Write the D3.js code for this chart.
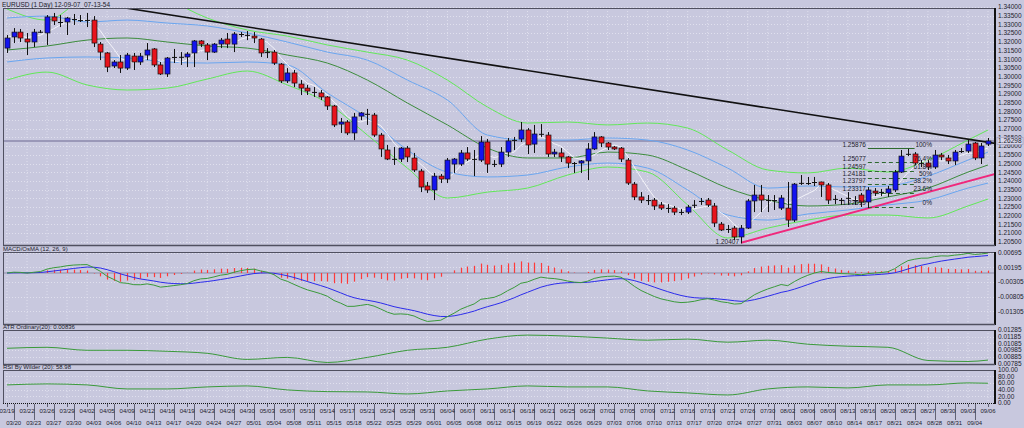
<!DOCTYPE html>
<html>
<head>
<meta charset="utf-8">
<script src="https://cdnjs.cloudflare.com/ajax/libs/d3/7.8.5/d3.min.js"></script>
<style>
body { margin: 0; background: #c8c8de; }
svg { display: block; font-family: "Liberation Sans", Arial, sans-serif; }
</style>
</head>
<body>
<svg id="chart" width="1024" height="428"></svg>
<script>
// EURUSD daily candles, 2012-03-19 .. 2012-09-06 (Sunday sessions included)
var opens = [1.3164,1.3228,1.3256,1.3216,1.3199,1.3256,1.3251,1.3343,1.3314,1.3314,1.3331,1.3325,1.3325,1.3325,1.3187,1.3136,1.3061,1.3084,1.3049,1.3118,
  1.3084,1.3124,1.3159,1.3067,1.3015,1.3113,1.3113,1.3113,1.3136,1.3205,1.3182,1.3141,1.3187,1.3216,1.3187,1.3245,1.3239,1.3233,1.3216,1.3141,
  1.3141,1.3072,1.2975,1.3021,1.2957,1.2934,1.2911,1.2906,1.2883,1.2831,1.2727,1.2739,1.2676,1.2773,1.2785,1.2779,1.2664,1.2578,1.2526,1.2526,
  1.2589,1.2532,1.2457,1.2371,1.2348,1.2428,1.2411,1.2497,1.2497,1.2561,1.2526,1.2520,1.2624,1.2497,1.2497,1.2566,1.2635,1.2641,1.2693,1.2612,
  1.2670,1.2664,1.2555,1.2561,1.2538,1.2503,1.2503,1.2515,1.2584,1.2653,1.2618,1.2595,1.2589,1.2520,1.2382,1.2308,1.2290,1.2290,1.2262,1.2244,
  1.2244,1.2221,1.2221,1.2262,1.2285,1.2290,1.2256,1.2152,1.2124,1.2129,1.2078,1.2129,1.2285,1.2319,1.2290,1.2290,1.2244,1.2244,1.2175,1.2388,
  1.2388,1.2394,1.2394,1.2377,1.2296,1.2290,1.2302,1.2290,1.2319,1.2279,1.2342,1.2336,1.2331,1.2348,1.2451,1.2555,1.2555,1.2503,1.2503,1.2480,
  1.2549,1.2532,1.2515,1.2572,1.2572,1.2618,1.2532,1.2612];
var highs = [1.3239,1.3279,1.3274,1.3251,1.3274,1.3268,1.3354,1.3366,1.3354,1.3343,1.3360,1.3354,1.3366,1.3348,1.3199,1.3141,1.3095,1.3124,1.3136,1.3136,
  1.3136,1.3193,1.3164,1.3084,1.3113,1.3159,1.3141,1.3141,1.3210,1.3210,1.3193,1.3193,1.3222,1.3251,1.3256,1.3256,1.3262,1.3256,1.3222,1.3164,
  1.3153,1.3078,1.3049,1.3038,1.2980,1.2952,1.2940,1.2923,1.2888,1.2837,1.2762,1.2750,1.2791,1.2796,1.2814,1.2791,1.2676,1.2607,1.2595,1.2595,
  1.2601,1.2561,1.2469,1.2394,1.2446,1.2440,1.2532,1.2532,1.2578,1.2595,1.2578,1.2658,1.2641,1.2520,1.2595,1.2647,1.2653,1.2739,1.2704,1.2722,
  1.2727,1.2681,1.2584,1.2589,1.2543,1.2509,1.2520,1.2618,1.2681,1.2658,1.2624,1.2601,1.2595,1.2532,1.2394,1.2336,1.2319,1.2302,1.2279,1.2267,
  1.2256,1.2239,1.2262,1.2290,1.2302,1.2302,1.2273,1.2164,1.2147,1.2141,1.2147,1.2296,1.2377,1.2377,1.2319,1.2319,1.2319,1.2394,1.2388,1.2434,
  1.2423,1.2423,1.2396,1.2388,1.2319,1.2302,1.2336,1.2313,1.2331,1.2365,1.2359,1.2354,1.2371,1.2463,1.2578,1.2584,1.2566,1.2520,1.2520,1.2578,
  1.2561,1.2549,1.2578,1.2589,1.2635,1.2624,1.2618,1.2647];
var lows = [1.3136,1.3193,1.3199,1.3124,1.3170,1.3251,1.3182,1.3297,1.3285,1.3239,1.3297,1.3314,1.3285,1.3170,1.3095,1.3026,1.3049,1.3021,1.3038,1.3038,
  1.3067,1.3095,1.3055,1.3009,1.2998,1.3078,1.3067,1.3055,1.3055,1.3170,1.3095,1.3136,1.3164,1.3164,1.3141,1.3228,1.3210,1.3193,1.3113,1.3107,
  1.3067,1.2963,1.2963,1.2940,1.2894,1.2894,1.2883,1.2865,1.2808,1.2710,1.2676,1.2664,1.2635,1.2750,1.2722,1.2653,1.2538,1.2520,1.2492,1.2509,
  1.2509,1.2451,1.2336,1.2331,1.2290,1.2388,1.2388,1.2446,1.2486,1.2515,1.2428,1.2509,1.2446,1.2480,1.2480,1.2538,1.2578,1.2624,1.2555,1.2561,
  1.2653,1.2538,1.2538,1.2509,1.2474,1.2446,1.2446,1.2405,1.2578,1.2595,1.2578,1.2578,1.2509,1.2377,1.2290,1.2273,1.2262,1.2233,1.2233,1.2216,
  1.2204,1.2204,1.2210,1.2244,1.2262,1.2250,1.2135,1.2112,1.2101,1.2060,1.20407,1.2124,1.2221,1.2221,1.2221,1.2233,1.2233,1.2135,1.2164,1.2377,
  1.2377,1.2371,1.2308,1.2267,1.2267,1.2262,1.2262,1.2262,1.2250,1.2244,1.2313,1.2313,1.2308,1.2336,1.2446,1.2543,1.2492,1.2480,1.2463,1.2469,
  1.2520,1.2497,1.2492,1.2561,1.2561,1.2520,1.2497,1.2601];
var closes = [1.3222,1.3256,1.3222,1.3199,1.3256,1.3258,1.3343,1.3320,1.3312,1.3337,1.3330,1.3324,1.3326,1.3193,1.3141,1.3055,1.3084,1.3049,1.3124,1.3084,
  1.3118,1.3153,1.3067,1.3015,1.3107,1.3112,1.3114,1.3130,1.3205,1.3187,1.3141,1.3187,1.3210,1.3187,1.3245,1.3244,1.3240,1.3222,1.3136,1.3140,
  1.3078,1.2975,1.3021,1.2963,1.2934,1.2917,1.2912,1.2883,1.2831,1.2722,1.2739,1.2676,1.2768,1.2791,1.2786,1.2664,1.2584,1.2526,1.2527,1.2589,
  1.2538,1.2463,1.2365,1.2348,1.2428,1.2411,1.2520,1.2526,1.2561,1.2526,1.2527,1.2624,1.2497,1.2498,1.2566,1.2630,1.2636,1.2693,1.2607,1.2670,
  1.2671,1.2555,1.2566,1.2538,1.2503,1.2502,1.2515,1.2584,1.2653,1.2618,1.2595,1.2584,1.2526,1.2388,1.2308,1.2290,1.2289,1.2256,1.2244,1.2245,
  1.2221,1.2222,1.2250,1.2263,1.2284,1.2262,1.2158,1.2118,1.2123,1.2078,1.2129,1.2285,1.2319,1.2290,1.2291,1.2289,1.2302,1.2175,1.2382,1.2389,
  1.2387,1.2393,1.2377,1.2290,1.2297,1.2291,1.2303,1.2289,1.2279,1.2348,1.2331,1.2337,1.2354,1.2451,1.2543,1.2556,1.2503,1.2504,1.2480,1.2549,
  1.2538,1.2515,1.2566,1.2571,1.2612,1.2532,1.2601,1.26298];

var bandIndex  = [0,6,12,18,24,30,36,42,48,54,60,66,72,78,84,90,96,102,108,114,120,126,132,138,144,147];
var upperOuter = [1.3389,1.3325,1.3458,1.3486,1.3440,1.3337,1.3268,1.3233,1.3182,1.3141,1.3095,1.2980,1.2825,1.2733,1.2739,1.2722,1.2733,1.2704,1.2578,1.2463,1.2446,1.2474,1.2451,1.2520,1.2635,1.2693];
var upperInner = [1.3337,1.3348,1.3314,1.3325,1.3308,1.3291,1.3251,1.3199,1.3141,1.3095,1.2980,1.2865,1.2664,1.2635,1.2635,1.2647,1.2635,1.2578,1.2474,1.2359,1.2371,1.2365,1.2371,1.2428,1.2520,1.2566];
var middle     = [1.3153,1.3176,1.3210,1.3222,1.3199,1.3176,1.3164,1.3124,1.3078,1.2980,1.2848,1.2722,1.2589,1.2532,1.2532,1.2566,1.2549,1.2463,1.2359,1.2290,1.2256,1.2267,1.2308,1.2359,1.2451,1.2492];
var lowerInner = [1.3084,1.3107,1.3113,1.3107,1.3084,1.3078,1.3084,1.3067,1.2906,1.2762,1.2578,1.2451,1.2423,1.2434,1.2480,1.2503,1.2474,1.2348,1.2204,1.2175,1.2210,1.2233,1.2262,1.2290,1.2359,1.2388];
var lowerOuter = [1.2980,1.3026,1.2952,1.2923,1.2934,1.2986,1.3032,1.2952,1.2848,1.2664,1.2474,1.2302,1.2336,1.2359,1.2434,1.2480,1.2451,1.2262,1.2072,1.2129,1.2175,1.2204,1.2204,1.2187,1.2256,1.2296];
var atrValues  = [0.01012,0.01027,0.00982,0.00982,0.00967,0.00937,0.00846,0.00876,0.00800,0.00876,0.00982,0.01027,0.01149,0.01209,0.01194,0.01164,0.01133,0.01149,0.01103,0.01133,0.01073,0.01043,0.01027,0.00830,0.00815,0.00836];
var rsiValues  = [54,57,54,42,42,48,51,39,34,33,27,36,42,51,48,48,36,30,24,42,48,45,54,54,60,58.98];

var fibLevels = [1.25876,1.25077,1.24597,1.24181,1.23797,1.23317,1.22519];
var fibNames  = ["100%","76.4%","61.8%","50%","38.2%","23.6%","0%"];
var trendDown = [[14,1.3417],[148.1,1.2616]];
var trendUp   = [[110,1.2045],[148.1,1.2440]];
var lastPrice = 1.26298;

var priceTicks = d3.range(1.205, 1.34001, 0.005);
var macdTicks  = [0.00695,0.00195,-0.00305,-0.00805,-0.01305];
var atrTicks   = [0.01285,0.01185,0.01085,0.00985,0.00885,0.00785];
var rsiTicks   = [100,80,60,40,20,0];
var topLabels = ["03/19","03/22","03/26","03/29","04/02","04/05","04/09","04/12","04/16","04/19","04/23","04/26","04/30","05/03","05/07","05/10","05/14","05/17","05/21","05/24","05/28","05/31","06/04","06/07","06/11","06/14","06/18","06/21","06/25","06/28","07/02","07/05","07/09","07/12","07/16","07/19","07/23","07/26","07/30","08/02","08/06","08/09","08/13","08/16","08/20","08/23","08/27","08/30","09/03","09/06"];
var bottomLabels = ["03/20","03/23","03/27","03/30","04/03","04/06","04/10","04/13","04/17","04/20","04/24","04/27","05/01","05/04","05/08","05/11","05/15","05/18","05/22","05/25","05/29","06/01","06/05","06/08","06/12","06/15","06/19","06/22","06/26","06/29","07/03","07/06","07/10","07/13","07/17","07/20","07/24","07/27","07/31","08/03","08/07","08/10","08/14","08/17","08/21","08/24","08/28","08/31","09/04"];

var days = d3.timeDay.range(new Date(2012, 2, 19), new Date(2012, 8, 7)).filter(function (d) { return d.getDay() !== 6; });
var fmt = d3.timeFormat("%m/%d");
var dayIndex = {};
days.forEach(function (d, i) { dayIndex[fmt(d)] = i; });

var svg = d3.select("#chart");
var left = 3, right = 995;
var panels = {
    main: { top: 8, bottom: 245 },
    macd: { top: 252, bottom: 324 },
    atr: { top: 330, bottom: 364 },
    rsi: { top: 370, bottom: 403 }
};

var x = d3.scaleLinear().domain([0, closes.length - 1]).range([7, 988]);
var y = d3.scaleLinear().domain([1.20317, 1.33945]).range([panels.main.bottom, panels.main.top]);
var yMacd = d3.scaleLinear().domain([-0.01729, 0.00695]).range([panels.macd.bottom, panels.macd.top + 0.5]);
var yAtr = d3.scaleLinear().domain([0.00785, 0.01285]).range([panels.atr.bottom - 0.5, panels.atr.top]);
var yRsi = d3.scaleLinear().domain([0, 100]).range([panels.rsi.bottom, panels.rsi.top - 0.5]);

var gridColor = "#e6e6f2";
var textColor = "#1c1c2c";

// clip paths
var defs = svg.append("defs");
Object.keys(panels).forEach(function (k) {
    defs.append("clipPath").attr("id", "clip-" + k)
      .append("rect")
        .attr("x", left).attr("y", panels[k].top)
        .attr("width", right - left).attr("height", panels[k].bottom - panels[k].top);
});

// grid
var vGrid = topLabels.map(function (l) { return dayIndex[l]; });
Object.keys(panels).forEach(function (k) {
    var p = panels[k];
    svg.append("g").selectAll("line").data(vGrid).enter().append("line")
        .attr("x1", function (d) { return x(d); }).attr("x2", function (d) { return x(d); })
        .attr("y1", p.top).attr("y2", p.bottom)
        .attr("stroke", gridColor).attr("stroke-width", 0.8).attr("stroke-dasharray", "1,2");
});
function hGrid(ticks, scale) {
    svg.append("g").selectAll("line").data(ticks).enter().append("line")
        .attr("x1", left).attr("x2", right)
        .attr("y1", function (d) { return Math.round(scale(d)) + 0.5; })
        .attr("y2", function (d) { return Math.round(scale(d)) + 0.5; })
        .attr("stroke", gridColor).attr("stroke-width", 0.8).attr("stroke-dasharray", "1,2");
}
hGrid(priceTicks, y);
hGrid(macdTicks, yMacd);
hGrid(atrTicks, yAtr);
hGrid(rsiTicks.slice(1, 5), yRsi);

// ---------- main panel ----------
var main = svg.append("g").attr("clip-path", "url(#clip-main)");

main.append("line")
    .attr("x1", left).attr("x2", right)
    .attr("y1", y(lastPrice)).attr("y2", y(lastPrice))
    .attr("stroke", "#9a98b8").attr("stroke-width", 2);

var bandLine = d3.line()
    .x(function (d) { return x(d[0]); })
    .y(function (d) { return y(d[1]); })
    .curve(d3.curveMonotoneX);

function band(values, color, width) {
    main.append("path")
        .datum(bandIndex.map(function (b, i) { return [b, values[i]]; }))
        .attr("d", bandLine)
        .attr("fill", "none").attr("stroke", color).attr("stroke-width", width);
}
band(upperOuter, "#62e858", 1);
band(lowerOuter, "#62e858", 1);
band(upperInner, "#6aa6f0", 1);
band(lowerInner, "#6aa6f0", 1);
band(middle, "#3c8c3c", 1);

// short moving average of the closes (white line)
var fast = closes.map(function (c, i) { return [i, d3.mean(closes.slice(Math.max(0, i - 4), i + 1))]; });
main.append("path").datum(fast)
    .attr("d", d3.line().x(function (d) { return x(d[0]); }).y(function (d) { return y(d[1]); }))
    .attr("fill", "none").attr("stroke", "#f4f4fa").attr("stroke-width", 1);

// trend lines
var tline = d3.line().x(function (d) { return x(d[0]); }).y(function (d) { return y(d[1]); });
main.append("path").datum(trendDown).attr("d", tline).attr("stroke", "#111").attr("stroke-width", 1.6).attr("fill", "none");
main.append("path").datum(trendUp).attr("d", tline).attr("stroke", "#f0287c").attr("stroke-width", 2).attr("fill", "none");

// fibonacci
var fibA = 129, fibB = 136;
var fib = main.append("g");
fib.selectAll("line").data(fibLevels).enter().append("line")
    .attr("x1", x(fibA)).attr("x2", x(fibB))
    .attr("y1", function (d) { return Math.round(y(d)) + 0.5; })
    .attr("y2", function (d) { return Math.round(y(d)) + 0.5; })
    .attr("stroke", "#2e6a2e").attr("stroke-width", 1)
    .attr("stroke-dasharray", function (d, i) { return i === 0 ? null : "4,3"; });

// candles
var candles = main.append("g").selectAll("g").data(closes).enter().append("g");
candles.append("line")
    .attr("x1", function (d, i) { return Math.round(x(i)) + 0.5; })
    .attr("x2", function (d, i) { return Math.round(x(i)) + 0.5; })
    .attr("y1", function (d, i) { return y(highs[i]); })
    .attr("y2", function (d, i) { return y(lows[i]); })
    .attr("stroke", "#101010").attr("stroke-width", 1);
candles.append("rect")
    .attr("x", function (d, i) { return Math.round(x(i)) - 2; })
    .attr("width", 5)
    .attr("y", function (d, i) { return y(Math.max(opens[i], d)); })
    .attr("height", function (d, i) { return Math.max(1, Math.abs(y(opens[i]) - y(d))); })
    .attr("fill", function (d, i) {
        if (Math.abs(d - opens[i]) < 0.00025) return "#101010";
        return d > opens[i] ? "#1414f0" : "#e8141c";
    })
    .attr("stroke", "#101010").attr("stroke-width", function (d, i) {
        return Math.abs(d - opens[i]) < 0.00025 ? 0 : 0.7;
    });

// fib labels (drawn over candles)
var fibText = svg.append("g").attr("font-size", 6.5).attr("fill", textColor);
fibText.selectAll("text.p").data(fibLevels).enter().append("text")
    .attr("x", x(fibA) - 2).attr("y", function (d) { return y(d) - 1.5; })
    .attr("text-anchor", "end").text(function (d) { return d.toFixed(5); });
fibText.selectAll("text.n").data(fibNames).enter().append("text")
    .attr("x", 932).attr("y", function (d, i) { return y(fibLevels[i]) - 1.5; })
    .attr("text-anchor", "end").text(function (d) { return d; });
fibText.append("text")
    .attr("x", x(110) - 2).attr("y", y(d3.min(lows)) + 1)
    .attr("text-anchor", "end").text(d3.min(lows).toFixed(5));

// ---------- MACD panel ----------
function ema(arr, n) {
    var k = 2 / (n + 1), prev = arr[0];
    return arr.map(function (v, i) { prev = i ? v * k + prev * (1 - k) : v; return prev; });
}
var ema12 = ema(closes, 12), ema26 = ema(closes, 26);
var macd = ema12.map(function (v, i) { return v - ema26[i]; });
var signal = ema(macd, 9);
var osma = macd.map(function (v, i) { return v - signal[i]; });

var mg = svg.append("g").attr("clip-path", "url(#clip-macd)");
mg.append("line").attr("x1", left).attr("x2", right)
    .attr("y1", yMacd(0)).attr("y2", yMacd(0))
    .attr("stroke", "#8c8ca8").attr("stroke-width", 1);
mg.selectAll("line.h").data(osma).enter().append("line")
    .attr("x1", function (d, i) { return Math.round(x(i)) + 0.5; })
    .attr("x2", function (d, i) { return Math.round(x(i)) + 0.5; })
    .attr("y1", yMacd(0))
    .attr("y2", function (d) { return yMacd(d); })
    .attr("stroke", "#ff3a3a").attr("stroke-width", 1.2);
var mline = function (scale) {
    return d3.line().x(function (d, i) { return x(i); }).y(function (d) { return scale(d); });
};
mg.append("path").datum(signal).attr("d", mline(yMacd)).attr("fill", "none").attr("stroke", "#2c2cec").attr("stroke-width", 1);
mg.append("path").datum(macd).attr("d", mline(yMacd)).attr("fill", "none").attr("stroke", "#3a9a3a").attr("stroke-width", 1);

// ---------- ATR & RSI ----------
var sampleLine = function (scale) {
    return d3.line().x(function (d, i) { return x(bandIndex[i]); }).y(function (d) { return scale(d); }).curve(d3.curveMonotoneX);
};
svg.append("g").attr("clip-path", "url(#clip-atr)")
  .append("path").datum(atrValues).attr("d", sampleLine(yAtr))
    .attr("fill", "none").attr("stroke", "#3a9a3a").attr("stroke-width", 1);
svg.append("g").attr("clip-path", "url(#clip-rsi)")
  .append("path").datum(rsiValues).attr("d", sampleLine(yRsi))
    .attr("fill", "none").attr("stroke", "#3a9a3a").attr("stroke-width", 1);

// ---------- frames ----------
Object.keys(panels).forEach(function (k) {
    var p = panels[k];
    var f = svg.append("g").attr("fill", "none");
    f.append("line").attr("x1", left + 0.5).attr("x2", left + 0.5).attr("y1", p.top).attr("y2", p.bottom).attr("stroke", "#505060");
    f.append("line").attr("x1", left).attr("x2", right).attr("y1", p.top + 0.5).attr("y2", p.top + 0.5).attr("stroke", "#505060");
    f.append("line").attr("x1", right).attr("x2", right).attr("y1", p.top).attr("y2", p.bottom + 1).attr("stroke", "#111").attr("stroke-width", 2);
    f.append("line").attr("x1", left).attr("x2", right).attr("y1", p.bottom + 0.5).attr("y2", p.bottom + 0.5)
        .attr("stroke", k === "rsi" ? "#111" : "#505060")
        .attr("stroke-dasharray", k === "rsi" ? "1,1" : null)
        .attr("stroke-width", k === "rsi" ? 1 : 1.5);
});

// ---------- right-hand scales ----------
var axisText = svg.append("g").attr("font-size", 6.5).attr("fill", textColor);
function rightLabels(ticks, scale, f) {
    axisText.append("g").selectAll("text").data(ticks).enter().append("text")
        .attr("x", 998).attr("y", function (d) { return scale(d) + 2.3; })
        .text(f);
}
rightLabels(priceTicks, y, function (d) { return d.toFixed(5); });
rightLabels(macdTicks, yMacd, function (d) { return d.toFixed(5); });
rightLabels(atrTicks, yAtr, function (d) { return d.toFixed(5); });
rightLabels(rsiTicks, yRsi, function (d) { return d.toFixed(2); });

axisText.append("rect").attr("x", 997).attr("y", y(lastPrice) - 3.5).attr("width", 26).attr("height", 7)
    .attr("fill", "#d6d6ea").attr("stroke", "#9a98b8").attr("stroke-width", 0.6);
axisText.append("text").attr("x", 998).attr("y", y(lastPrice) + 2.3).text(lastPrice.toFixed(5));

// ---------- date axis ----------
var dates = svg.append("g").attr("font-size", 6).attr("fill", textColor).attr("text-anchor", "middle");
dates.selectAll("text.t").data(topLabels).enter().append("text")
    .attr("x", function (d) { return x(dayIndex[d]); }).attr("y", 413).text(function (d) { return d; });
dates.selectAll("text.b").data(bottomLabels).enter().append("text")
    .attr("x", function (d) { return x(dayIndex[d]); }).attr("y", 425).text(function (d) { return d; });
dates.selectAll("line.t").data(topLabels).enter().append("line")
    .attr("x1", function (d) { return Math.round(x(dayIndex[d])) + 0.5; })
    .attr("x2", function (d) { return Math.round(x(dayIndex[d])) + 0.5; })
    .attr("y1", 404).attr("y2", 407).attr("stroke", textColor).attr("stroke-width", 0.6);
dates.selectAll("line.b").data(bottomLabels).enter().append("line")
    .attr("x1", function (d) { return Math.round(x(dayIndex[d])) + 0.5; })
    .attr("x2", function (d) { return Math.round(x(dayIndex[d])) + 0.5; })
    .attr("y1", 404).attr("y2", 420).attr("stroke", textColor).attr("stroke-width", 0.6);

// ---------- titles ----------
var titles = svg.append("g").attr("fill", textColor);
titles.append("text").attr("x", 2).attr("y", 6.5).attr("font-size", 6.5).text("EURUSD (1 Day) 12-09-07_07-13-54");
titles.append("text").attr("x", 3).attr("y", 250.5).attr("font-size", 6).text("MACD/OsMA (12, 26, 9)");
titles.append("text").attr("x", 3).attr("y", 328.5).attr("font-size", 6).text("ATR Ordinary(20): " + atrValues[atrValues.length - 1].toFixed(5));
titles.append("text").attr("x", 3).attr("y", 368.5).attr("font-size", 6).text("RSI By Wilder (20): " + rsiValues[rsiValues.length - 1].toFixed(2));
</script>
</body>
</html>
